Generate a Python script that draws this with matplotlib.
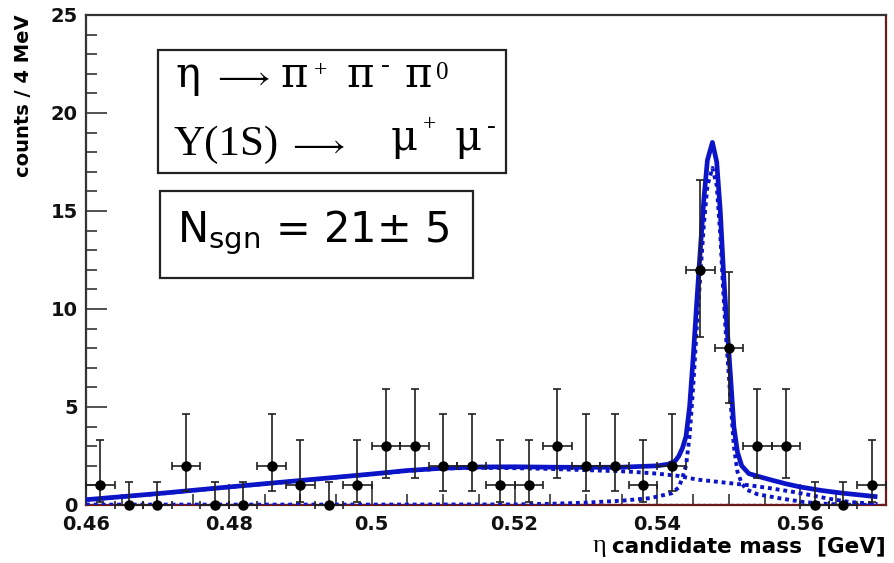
import matplotlib
matplotlib.use("Agg")
import matplotlib.pyplot as plt
from matplotlib.ticker import MultipleLocator
import numpy as np

# --- data: counts per 4 MeV bin ---
bin_centres = [0.462, 0.466, 0.470, 0.474, 0.478, 0.482, 0.486, 0.490, 0.494, 0.498,
               0.502, 0.506, 0.510, 0.514, 0.518, 0.522, 0.526, 0.530, 0.534, 0.538,
               0.542, 0.546, 0.550, 0.554, 0.558, 0.562, 0.566, 0.570]
counts = [1, 0, 0, 2, 0, 0, 2, 1, 0, 1,
          3, 3, 2, 2, 1, 1, 3, 2, 2, 1,
          2, 12, 8, 3, 3, 0, 0, 1]
# asymmetric (poisson) errors as drawn, lower / upper lengths per count value
err_table_lo = {0: 0.0, 1: 0.83, 2: 1.29, 3: 1.63, 8: 2.8, 12: 3.45}
err_table_hi = {0: 1.15, 1: 2.30, 2: 2.64, 3: 2.92, 8: 3.9, 12: 4.6}
bin_half = 0.002

# --- fit curves, points ---
total_x = [0.460, 0.470, 0.480, 0.490, 0.500, 0.505, 0.510, 0.515, 0.520, 0.525,
           0.530, 0.535, 0.5400, 0.5415, 0.5425, 0.5430, 0.5435, 0.5440, 0.5445,
           0.5450, 0.5455, 0.5460, 0.5465, 0.5470, 0.5477, 0.5483, 0.5488, 0.5492,
           0.5496, 0.5500, 0.5503, 0.5507, 0.5512, 0.5518, 0.5528, 0.5545, 0.5560,
           0.5580, 0.5600, 0.5630, 0.5660, 0.5708]
total_y = [0.27, 0.58, 0.92, 1.25, 1.58, 1.76, 1.88, 1.94, 1.95, 1.93,
           1.92, 1.93, 2.0, 2.08, 2.25, 2.5, 2.9, 3.5, 5.0,
           7.5, 10.3, 13.0, 15.6, 17.6, 18.5, 17.5, 15.0, 12.2,
           9.8, 7.8, 6.2, 4.0, 2.7, 2.0, 1.6, 1.42, 1.27,
           1.08, 0.92, 0.74, 0.6, 0.42]

bkg_x = [0.460, 0.470, 0.480, 0.490, 0.500, 0.505, 0.510, 0.515, 0.520, 0.525,
         0.530, 0.535, 0.537, 0.540, 0.543, 0.5455, 0.548, 0.5505, 0.553, 0.5555,
         0.5585, 0.5615, 0.564, 0.567, 0.5708]
bkg_y = [0.26, 0.57, 0.91, 1.24, 1.57, 1.74, 1.86, 1.9, 1.88, 1.84,
         1.78, 1.72, 1.68, 1.6, 1.48, 1.3, 1.2, 1.1, 1.0, 0.87,
         0.7, 0.5, 0.32, 0.15, 0.05]

sig_x = [0.460, 0.480, 0.500, 0.520, 0.525, 0.530, 0.535, 0.539, 0.542, 0.543,
         0.5435, 0.5440, 0.5445, 0.5450, 0.5455, 0.5460, 0.5465, 0.5470, 0.5477,
         0.5483, 0.5488, 0.5492, 0.5496, 0.5500, 0.5503, 0.5507, 0.5512, 0.5518,
         0.5525, 0.5540, 0.5570, 0.5605, 0.5640, 0.5670, 0.5708]
sig_y = [0.02, 0.02, 0.02, 0.03, 0.06, 0.12, 0.22, 0.35, 0.6, 0.9,
         1.4, 2.0, 3.5, 6.0, 9.0, 11.7, 14.3, 16.3, 17.2,
         16.3, 13.8, 11.0, 8.6, 6.6, 5.0, 3.0, 1.7, 1.1,
         0.78, 0.55, 0.35, 0.15, 0.05, 0.01, 0.0]

blue = "#0c14c8"

plt.ioff()
fig = plt.figure(figsize=(8.94, 5.63), dpi=100)
W, H = 894.0, 563.0
ax = fig.add_axes([86 / W, 1 - 505 / H, (886 - 86) / W, (505 - 15) / H])

# curves
ax.plot(bkg_x, bkg_y, color=blue, lw=2.8, ls=(0, (1.0, 1.0)), zorder=3)
ax.plot(sig_x, sig_y, color=blue, lw=2.8, ls=(0, (1.0, 1.0)), zorder=3)
ax.plot(total_x, total_y, color=blue, lw=3.4, zorder=4, solid_capstyle="butt")
ax.axhline(0.03, color="#5a2a4a", lw=1.0, ls=(0, (2, 2)), zorder=2)

# data points
ylo = [err_table_lo[c] for c in counts]
yhi = [err_table_hi[c] for c in counts]
ax.errorbar(bin_centres, counts, yerr=[ylo, yhi], xerr=bin_half, fmt="o",
            color="black", ecolor="#202020", elinewidth=1.2, capsize=2.6,
            capthick=1.2, markersize=6.5, zorder=5, clip_on=False)

ax.set_xlim(0.46, 0.572)
ax.set_ylim(0, 25)

# ROOT-like axes
ax.xaxis.set_major_locator(MultipleLocator(0.02))
ax.xaxis.set_minor_locator(MultipleLocator(0.005))
ax.yaxis.set_major_locator(MultipleLocator(5))
ax.yaxis.set_minor_locator(MultipleLocator(1))
ax.tick_params(which="both", direction="in", top=False, right=False, color="#222222")
ax.tick_params(which="major", length=15, width=1.1, pad=6)
ax.tick_params(axis="x", which="major", pad=7)
ax.tick_params(which="minor", length=8, width=1.1)
ax.xaxis.set_major_formatter(plt.FuncFormatter(lambda v, p: ("%g" % round(v, 3))))
for lab in ax.get_xticklabels() + ax.get_yticklabels():
    lab.set_fontfamily("DejaVu Sans")
    lab.set_fontweight("bold")
    lab.set_fontsize(14)
    lab.set_color("#111111")

for side in ["top", "left"]:
    ax.spines[side].set_color("#333333")
    ax.spines[side].set_linewidth(1.6)
for side in ["right", "bottom"]:
    ax.spines[side].set_color("#6a1c1c")
    ax.spines[side].set_linewidth(1.6)

# axis titles
fig.text(24 / W, 1 - 14 / H, "counts / 4 MeV", rotation=90, ha="center", va="top",
         fontfamily="DejaVu Sans", fontweight="bold", fontsize=14)
xt = fig.text(886 / W, 1 - 552 / H, "candidate mass  [GeV]", ha="right", va="baseline",
              fontfamily="DejaVu Sans", fontweight="bold", fontsize=15.5)
fig.canvas.draw()
bb = xt.get_window_extent()
fig.text((bb.x0 - 6) / W, 1 - 552 / H, "\u03b7", ha="right", va="baseline",
         fontfamily="Liberation Serif", fontsize=19)

# text boxes
def px_box(x0, y0, x1, y1):
    r = plt.Rectangle((x0 / W, 1 - y1 / H), (x1 - x0) / W, (y1 - y0) / H,
                      transform=fig.transFigure, fill=False, lw=1.6,
                      edgecolor="#222222", zorder=6)
    fig.add_artist(r)

px_box(158, 50, 506, 173)
px_box(160, 191, 473, 278)

# decay labels, set piece by piece (ROOT TLatex look): text, x px, baseline px, size
def latex_piece(s, x, y, size, **kw):
    kw.setdefault("fontfamily", "Liberation Serif")
    fig.text(x / W, 1 - y / H, s, fontsize=size, ha="left", va="baseline", **kw)

arrow = r"$\longrightarrow$"
greek = "DejaVu Serif"
latex_piece("\u03b7", 175, 87, 30, fontfamily=greek)
latex_piece(arrow, 213, 86, 24, math_fontfamily="stix")
latex_piece("\u03c0", 281, 87, 30, fontfamily=greek)
latex_piece("+", 314, 76, 17)
latex_piece("\u03c0", 347, 87, 30, fontfamily=greek)
latex_piece("-", 381, 72, 19)
latex_piece("\u03c0", 404, 87, 30, fontfamily=greek)
latex_piece("0", 436, 79, 18)

latex_piece("Y(1S)", 173, 155, 31)
latex_piece(arrow, 288, 154, 24, math_fontfamily="stix")
latex_piece("\u03bc", 391, 150, 30, fontfamily=greek)
latex_piece("+", 423, 130, 17)
latex_piece("\u03bc", 455, 150, 30, fontfamily=greek)
latex_piece("-", 487, 133, 19)

fig.text(177 / W, 1 - 242 / H, "N$_{\\mathrm{sgn}}$ = 21$\\pm$ 5",
         fontsize=30, fontfamily="DejaVu Sans", math_fontfamily="dejavusans",
         ha="left", va="baseline")

fig.savefig("out.png", dpi=100)
plt.close(fig)
